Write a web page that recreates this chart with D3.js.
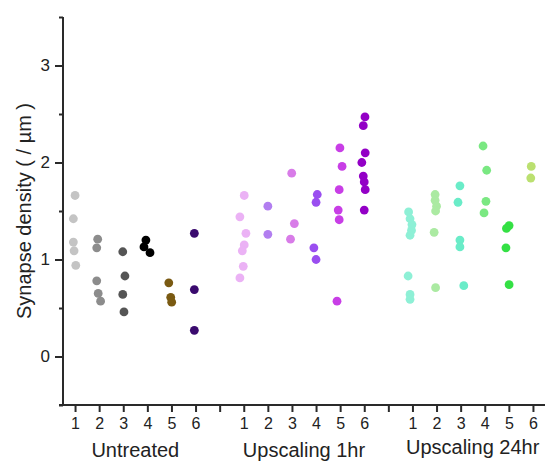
<!DOCTYPE html>
<html>
<head>
<meta charset="utf-8">
<script src="https://cdn.jsdelivr.net/npm/d3@7/dist/d3.min.js"></script>
<style>
  html, body { margin: 0; padding: 0; background: #fff; }
  svg { display: block; font-family: "Liberation Sans", Arial, sans-serif; }
</style>
</head>
<body>
<svg id="chart" width="548" height="466"></svg>
<script>
// ---- data ----
const groups = ["Untreated", "Upscaling 1hr", "Upscaling 24hr"];
const tickLabels = ["1", "2", "3", "4", "5", "6"];
const positions = [1, 2, 3, 4, 5, 6, 8, 9, 10, 11, 12, 13, 15, 16, 17, 18, 19, 20];
const allTicks = d3.range(1, 21);
const yTicks = [0, 1, 2, 3];
const yMinorTicks = [-0.5, 0.5, 1.5, 2.5, 3.5];

const seriesColors = [
  "#c4c4c4", "#8c8c8c", "#555555", "#000000", "#7a5a12", "#3a0a6e",
  "#ebb2f5", "#b27ef0", "#d87ce8", "#9a4ef0", "#c83ee6", "#9300c6",
  "#8ef0d6", "#abeaa2", "#6aecc8", "#7ae882", "#34e044", "#bbe070"
];

const values = [
  [1.66, 1.42, 1.18, 1.09, 0.94],
  [1.21, 1.12, 0.78, 0.65, 0.57],
  [1.08, 0.83, 0.64, 0.46],
  [1.20, 1.13, 1.07],
  [0.76, 0.61, 0.56],
  [1.27, 0.69, 0.27],
  [1.66, 1.44, 1.27, 1.15, 1.09, 0.93, 0.81],
  [1.55, 1.26],
  [1.89, 1.37, 1.21],
  [1.67, 1.59, 1.12, 1.00],
  [2.15, 1.96, 1.72, 1.51, 1.41, 0.57],
  [2.47, 2.38, 2.10, 2.00, 1.86, 1.80, 1.72, 1.51],
  [1.49, 1.42, 1.36, 1.30, 1.25, 0.83, 0.64, 0.59],
  [1.67, 1.61, 1.55, 1.50, 1.28, 0.71],
  [1.76, 1.59, 1.20, 1.13, 0.73],
  [2.17, 1.92, 1.60, 1.48],
  [1.35, 1.32, 1.12, 0.74],
  [1.96, 1.84]
];

// horizontal jitter of each point, in category units
const jitter = [
  [0, -0.07, -0.07, -0.04, 0.03],
  [-0.06, -0.1, -0.1, -0.04, 0.06],
  [-0.02, 0.07, -0.02, 0.03],
  [-0.06, -0.14, 0.11],
  [-0.11, -0.03, 0.01],
  [-0.05, -0.05, -0.05],
  [0.02, -0.16, 0.09, 0.02, -0.06, -0.02, -0.16],
  [0, 0],
  [-0.01, 0.1, -0.06],
  [0.05, 0, -0.09, 0],
  [-0.01, 0.08, -0.04, -0.08, -0.04, -0.13],
  [0.03, -0.04, 0.04, -0.1, -0.04, 0, 0.04, 0],
  [-0.16, -0.1, -0.02, -0.04, -0.1, -0.18, -0.1, -0.1],
  [-0.06, -0.06, 0, -0.04, -0.1, -0.04],
  [-0.03, -0.11, -0.03, -0.03, 0.13],
  [-0.07, 0.08, 0.05, -0.03],
  [0.01, -0.1, -0.12, 0.01],
  [-0.07, -0.09]
];

// ---- chart ----
const svg = d3.select("#chart");
const x = d3.scaleLinear().domain([0.5, 20.5]).range([63, 545]);
const y = d3.scaleLinear().domain([-0.5, 3.5]).range([405, 17]);
const axisColor = "#2a2a2a";

// y axis
const yAxis = svg.append("g").attr("transform", `translate(${x(0.5)},0)`)
  .call(d3.axisLeft(y).tickValues(yTicks).tickSize(8).tickPadding(5).tickFormat(d3.format("d")));
yAxis.select(".domain").attr("stroke", axisColor).attr("stroke-width", 2).attr("d", `M0,${y(3.5)}V${y(-0.5)}`);
yAxis.selectAll(".tick line").attr("stroke", axisColor).attr("stroke-width", 2);
yAxis.selectAll(".tick text").attr("font-size", 17).attr("fill", "#222")
  .attr("font-family", "Liberation Sans, Arial, sans-serif");
const yMinor = svg.append("g").attr("transform", `translate(${x(0.5)},0)`)
  .call(d3.axisLeft(y).tickValues(yMinorTicks).tickSize(4).tickFormat(""));
yMinor.select(".domain").remove();
yMinor.selectAll(".tick line").attr("stroke", axisColor).attr("stroke-width", 2);

// x axis
const xAxis = svg.append("g").attr("transform", `translate(0,${y(-0.5)})`)
  .call(d3.axisBottom(x).tickValues(allTicks).tickSize(7).tickPadding(6)
    .tickFormat(d => {
      const i = positions.indexOf(d);
      return i < 0 ? "" : tickLabels[i % 6];
    }));
xAxis.select(".domain").attr("stroke", axisColor).attr("stroke-width", 2).attr("d", `M${x(0.5) - 4},0H${x(20.5)}`);
xAxis.selectAll(".tick line").attr("stroke", axisColor).attr("stroke-width", 2);
xAxis.selectAll(".tick text").attr("font-size", 16).attr("fill", "#222")
  .attr("font-family", "Liberation Sans, Arial, sans-serif");

// group labels
const groupCenters = [3.5, 10.5, 17.5];
const groupDy = [0, 0, -3];
svg.append("g").selectAll("text").data(groups).join("text")
  .attr("x", (d, i) => x(groupCenters[i]))
  .attr("y", (d, i) => 457 + groupDy[i])
  .attr("text-anchor", "middle")
  .attr("font-size", 20)
  .attr("fill", "#222")
  .text(d => d);

// y title
svg.append("text")
  .attr("transform", `translate(31,${y(1.5)}) rotate(-90)`)
  .attr("text-anchor", "middle")
  .attr("font-size", 20)
  .attr("fill", "#222")
  .text("Synapse density ( / µm )");

// points
const pts = [];
values.forEach((arr, s) => arr.forEach((v, j) => pts.push({ s, v, dx: jitter[s][j] })));
svg.append("g").selectAll("circle").data(pts).join("circle")
  .attr("cx", d => x(positions[d.s] + d.dx))
  .attr("cy", d => y(d.v))
  .attr("r", 4.4)
  .attr("fill", d => seriesColors[d.s]);
</script>
</body>
</html>
